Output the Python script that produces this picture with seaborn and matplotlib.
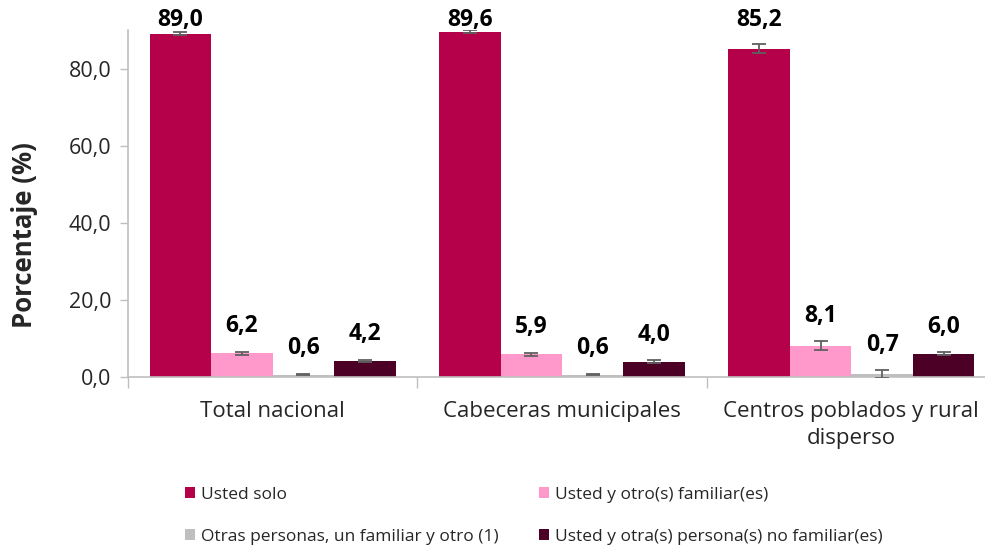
import numpy as np
import pandas as pd
import matplotlib
matplotlib.use("Agg")
import matplotlib.pyplot as plt
from matplotlib.ticker import FuncFormatter, FixedLocator
import seaborn as sns

categories = ["Total nacional", "Cabeceras municipales", "Centros poblados y rural\ndisperso"]
series = ["Usted solo", "Usted y otro(s) familiar(es)",
          "Otras personas, un familiar y otro (1)", "Usted y otra(s) persona(s) no familiar(es)"]
usted_solo = [89.0, 89.6, 85.2]
usted_familiar = [6.2, 5.9, 8.1]
otras_personas = [0.6, 0.6, 0.7]
usted_no_familiar = [4.2, 4.0, 6.0]
err_solo = [0.4, 0.3, 1.2]
err_familiar = [0.4, 0.4, 1.2]
err_otras = [0.2, 0.2, 1.0]
err_no_familiar = [0.3, 0.3, 0.4]
colors = ["#B5004A", "#FF99CC", "#BFBFBF", "#4D0026"]

values = [usted_solo, usted_familiar, otras_personas, usted_no_familiar]
errors = [err_solo, err_familiar, err_otras, err_no_familiar]

rows = []
for s, vals in zip(series, values):
    for c, v in zip(categories, vals):
        rows.append({"cat": c, "serie": s, "valor": v})
df = pd.DataFrame(rows)

sns.set_style("white")
plt.rcParams["font.family"] = ["Open Sans", "DejaVu Sans"]

fig = plt.figure(figsize=(9.85, 5.45), dpi=100)
ax = fig.add_axes([128 / 985, 1 - 377 / 545, 868 / 985, 347 / 545])

sns.barplot(data=df, x="cat", y="valor", hue="serie", order=categories, hue_order=series,
            palette=colors, width=0.85, errorbar=None, saturation=1, linewidth=0,
            ax=ax, legend=True)

for cont, errs in zip(ax.containers, errors):
    for bar, e in zip(cont, errs):
        xc = bar.get_x() + bar.get_width() / 2
        v = bar.get_height()
        ax.errorbar(xc, v, yerr=e, fmt="none", ecolor="#606060", elinewidth=1.3,
                    capsize=5, capthick=1.3, zorder=5)
        ly = min(v + e + 3.5, 89.6)
        ax.text(xc, ly, f"{v:.1f}".replace(".", ","), ha="center", va="bottom",
                fontsize=16.5, fontweight="bold", color="black")

ax.set_ylim(0, 90)
ax.set_xlim(-0.5, 2.5)
ax.yaxis.set_major_locator(FixedLocator([0, 20, 40, 60, 80]))
ax.yaxis.set_major_formatter(FuncFormatter(lambda y, p: f"{y:.1f}".replace(".", ",")))
ax.set_xlabel("")
ax.set_ylabel("Porcentaje (%)", fontsize=18.5, fontweight="bold")
ax.yaxis.set_label_coords(-0.104, 0.41)
ax.tick_params(axis="y", labelsize=15.5, left=True, length=6, color="#bfbfbf", width=1, pad=6)
ax.tick_params(axis="x", which="major", labelsize=16, length=0, pad=17)
for lbl in ax.get_xticklabels():
    lbl.set_linespacing(1.4)
ax.xaxis.set_minor_locator(FixedLocator([-0.5, 0.5, 1.5, 2.5]))
ax.tick_params(axis="x", which="minor", bottom=True, length=8, color="#bfbfbf", width=1)
for side in ["top", "right"]:
    ax.spines[side].set_visible(False)
for side in ["left", "bottom"]:
    ax.spines[side].set_color("#bfbfbf")
    ax.spines[side].set_linewidth(1.2)

handles, labels = ax.get_legend_handles_labels()
ax.get_legend().remove()
order = [0, 2, 1, 3]
fig.legend([handles[i] for i in order], [labels[i] for i in order], loc="upper left",
           bbox_to_anchor=(185 / 985, 1 - 487 / 545), borderpad=0, borderaxespad=0,
           ncol=2, frameon=False, fontsize=12.5, handlelength=0.6, handleheight=0.6,
           handletextpad=0.3, columnspacing=2.35, labelspacing=1.5)

fig.savefig("out.png", dpi=100)
